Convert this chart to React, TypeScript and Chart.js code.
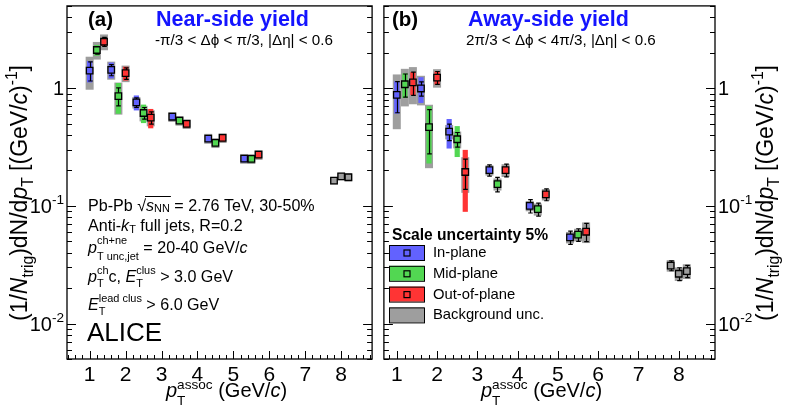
import React, { useEffect, useRef } from 'react';
import { Chart, registerables } from 'chart.js';
Chart.register(...registerables);

const FONT = '"Liberation Sans", Arial, Helvetica, sans-serif';

// ---------------- data ----------------
const planeLabels = ['In-plane', 'Mid-plane', 'Out-of-plane', 'Background unc.'];
const ptIn = [1.0, 1.6, 2.3, 3.3, 4.3, 5.3, 7.8];
const ptMid = [1.2, 1.8, 2.5, 3.5, 4.5, 5.5, 8.0];
const ptOut = [1.4, 2.0, 2.7, 3.7, 4.7, 5.7, 8.2];

const nearIn = [1.41, 1.43, 0.757, 0.572, 0.373, 0.252, 0.164];
const nearInStat = [0.26, 0.155, 0.07, 0.02, 0.012, 0.008, 0.005];
const nearInSys = [0.29, 0.22, 0.11, 0.04, 0.026, 0.018, 0];
const nearInBkg = [0.44, 0.25, 0.085, 0.055, 0.036, 0.024, 0.012];

const nearMid = [2.11, 0.856, 0.615, 0.53, 0.343, 0.251, 0.178];
const nearMidStat = [0.16, 0.15, 0.07, 0.015, 0.01, 0.008, 0.005];
const nearMidSys = [0.22, 0.25, 0.11, 0.037, 0.024, 0.018, 0];
const nearMidBkg = [0.36, 0.26, 0.093, 0.05, 0.033, 0.024, 0.013];

const nearOut = [2.48, 1.34, 0.561, 0.497, 0.378, 0.272, 0.175];
const nearOutStat = [0.22, 0.15, 0.067, 0.015, 0.012, 0.008, 0.006];
const nearOutSys = [0.19, 0.18, 0.105, 0.035, 0.026, 0.019, 0];
const nearOutBkg = [0.38, 0.215, 0.087, 0.047, 0.036, 0.026, 0.013];

const awayIn = [0.878, 0.994, 0.427, 0.201, 0.1, 0.054, 0.0311];
const awayInStat = [0.26, 0.137, 0.068, 0.022, 0.013, 0.007, 0.003];
const awayInSys = [0.27, 0.245, 0.12, 0.014, 0.007, 0.0038, 0];
const awayInBkg = [0.43, 0.28, 0.06, 0.02, 0.01, 0.006, 0.0035];

const awayMid = [1.08, 0.466, 0.368, 0.153, 0.0937, 0.0569, 0.0265];
const awayMidStat = [0.24, 0.19, 0.052, 0.0215, 0.012, 0.007, 0.0033];
const awayMidSys = [0.255, 0.237, 0.108, 0.011, 0.0066, 0.004, 0];
const awayMidBkg = [0.38, 0.257, 0.06, 0.018, 0.011, 0.007, 0.0035];

const awayOut = [1.12, 1.23, 0.194, 0.201, 0.125, 0.0603, 0.0279];
const awayOutStat = [0.25, 0.155, 0.056, 0.025, 0.0145, 0.0107, 0.0033];
const awayOutSys = [0.25, 0.16, 0.105, 0.014, 0.0088, 0.0042, 0];
const awayOutBkg = [0.39, 0.22, 0.065, 0.025, 0.014, 0.012, 0.004];

const xTickValues = [1, 2, 3, 4, 5, 6, 7, 8];
const yMajorValues = [0.01, 0.1, 1];
const yMajorBase = ['10', '10', '1'];
const yMajorExp = ['-2', '-1', ''];

// ---------------- style ----------------
const C_BLUE = 'rgb(98,98,255)';
const C_GREEN = 'rgb(82,215,82)';
const C_RED = 'rgb(255,52,52)';
const C_GRAY = 'rgb(158,158,158)';
const TITLE_BLUE = 'rgb(20,20,255)';
const BKG_HW = 4;
const SYS_HW = 2.6;
const MARK_HALF = 3.3;

type Seg = { t?: string; it?: boolean; sup?: string; sub?: string; ol?: boolean; subDy?: number; supDy?: number };

function fnt(size: number, it?: boolean, bold?: boolean) {
  return `${it ? 'italic ' : ''}${bold ? 'bold ' : ''}${size}px ${FONT}`;
}
function segW(ctx: CanvasRenderingContext2D, s: Seg, size: number, bold: boolean) {
  let w = 0;
  if (s.t) { ctx.font = fnt(size, s.it, bold); w += ctx.measureText(s.t).width; }
  let ws = 0;
  ctx.font = fnt(size * 0.68, false, bold);
  if (s.sup) ws = ctx.measureText(s.sup).width;
  if (s.sub) ws = Math.max(ws, ctx.measureText(s.sub).width);
  return w + ws;
}
function drawRich(ctx: CanvasRenderingContext2D, x: number, y: number, segs: Seg[], size: number,
  align: 'left' | 'right' | 'center' = 'left', bold = false, color = '#000') {
  let total = 0;
  for (const s of segs) total += segW(ctx, s, size, bold);
  let cx = align === 'left' ? x : align === 'right' ? x - total : x - total / 2;
  ctx.fillStyle = color; ctx.strokeStyle = color;
  ctx.textAlign = 'left'; ctx.textBaseline = 'alphabetic';
  for (const s of segs) {
    const start = cx;
    if (s.t) { ctx.font = fnt(size, s.it, bold); ctx.fillText(s.t, cx, y); cx += ctx.measureText(s.t).width; }
    ctx.font = fnt(size * 0.68, false, bold);
    let ws = 0;
    if (s.sup) { ctx.fillText(s.sup, cx, y - size * (s.supDy ?? 0.48)); ws = ctx.measureText(s.sup).width; }
    if (s.sub) { ctx.fillText(s.sub, cx, y + size * (s.subDy ?? 0.3)); ws = Math.max(ws, ctx.measureText(s.sub).width); }
    cx += ws;
    if (s.ol) {
      ctx.lineWidth = 1; ctx.beginPath();
      ctx.moveTo(start - 1, y - size * 0.9); ctx.lineTo(cx + 1, y - size * 0.9); ctx.stroke();
    }
  }
}

type Series = { x: number[]; y: number[]; stat: number[]; sys: number[]; bkg: number[]; color: string };
type Panel = {
  id: string; side: 'left' | 'right'; offsetX: number; width: number;
  xMin: number; xMax: number; padding: { left: number; right: number; top: number; bottom: number };
  series: Series[]; texts: (ctx: CanvasRenderingContext2D) => void;
};

const yTitle: Seg[] = [{ t: '(1/' }, { t: 'N', it: true, sub: 'trig', subDy: 0.28 }, { t: ')dN/d' },
  { t: 'p', it: true, sub: 'T', subDy: 0.28 }, { t: ' [(GeV/' }, { t: 'c', it: true }, { t: ')', sup: '-1', supDy: 0.45 }, { t: ']' }];
const xTitle: Seg[] = [{ t: 'p', it: true, sup: 'assoc', sub: 'T', supDy: 0.42, subDy: 0.38 }, { t: ' (GeV/' }, { t: 'c', it: true }, { t: ')' }];

function panelPlugin(p: Panel) {
  return {
    id: 'panel' + p.id,
    beforeDatasetsDraw(chart: any) {
      const { ctx, chartArea: a } = chart;
      const xs = chart.scales.x, ys = chart.scales.y;
      ctx.save();
      ctx.beginPath(); ctx.rect(a.left, a.top, a.right - a.left, a.bottom - a.top); ctx.clip();
      for (const s of p.series) s.x.forEach((xv, i) => {
        const b = s.bkg[i]; if (!b) return;
        const px = xs.getPixelForValue(xv);
        const y1 = ys.getPixelForValue(s.y[i] + b), y2 = ys.getPixelForValue(Math.max(s.y[i] - b, 1e-4));
        ctx.fillStyle = C_GRAY; ctx.fillRect(px - BKG_HW, y1, 2 * BKG_HW, y2 - y1);
      });
      for (const s of p.series) s.x.forEach((xv, i) => {
        const b = s.sys[i]; if (!b) return;
        const px = xs.getPixelForValue(xv);
        const y1 = ys.getPixelForValue(s.y[i] + b), y2 = ys.getPixelForValue(Math.max(s.y[i] - b, 1e-4));
        ctx.fillStyle = s.color; ctx.fillRect(px - SYS_HW, y1, 2 * SYS_HW, y2 - y1);
      });
      ctx.strokeStyle = '#000'; ctx.lineWidth = 1.2;
      for (const s of p.series) s.x.forEach((xv, i) => {
        const e = s.stat[i];
        const px = Math.round(xs.getPixelForValue(xv)) + 0.5;
        const yc = ys.getPixelForValue(s.y[i]);
        const yt = ys.getPixelForValue(s.y[i] + e), yb = ys.getPixelForValue(s.y[i] - e);
        ctx.beginPath();
        if (yt < yc - MARK_HALF - 0.5) {
          ctx.moveTo(px, yc - MARK_HALF); ctx.lineTo(px, yt);
          ctx.moveTo(px - 2.3, yt); ctx.lineTo(px + 2.3, yt);
        }
        if (yb > yc + MARK_HALF + 0.5) {
          ctx.moveTo(px, yc + MARK_HALF); ctx.lineTo(px, yb);
          ctx.moveTo(px - 2.3, yb); ctx.lineTo(px + 2.3, yb);
        }
        ctx.stroke();
      });
      ctx.restore();
    },
    afterDraw(chart: any) {
      const { ctx, chartArea: a } = chart;
      const xs = chart.scales.x, ys = chart.scales.y;
      ctx.save();
      ctx.strokeStyle = '#000'; ctx.lineWidth = 1.3;
      ctx.strokeRect(a.left, a.top, a.right - a.left, a.bottom - a.top);
      ctx.lineWidth = 1;
      ctx.beginPath();
      // x ticks (inward)
      for (let k = Math.ceil(p.xMin / 0.2 - 1e-6); k * 0.2 <= p.xMax + 1e-6; k++) {
        const v = k * 0.2;
        const major = Math.abs(v - Math.round(v)) < 1e-6;
        const px = Math.round(xs.getPixelForValue(v)) + 0.5;
        ctx.moveTo(px, a.bottom); ctx.lineTo(px, a.bottom - (major ? 8 : 4));
      }
      // y ticks (inward, both edges)
      for (let dec = -3; dec <= 0; dec++) {
        for (let m = 1; m <= 9; m++) {
          const v = m * Math.pow(10, dec);
          if (v < 0.005 - 1e-9 || v > 5 + 1e-9) continue;
          const py = Math.round(ys.getPixelForValue(v)) + 0.5;
          const len = m === 1 ? 9 : 5;
          ctx.moveTo(a.left, py); ctx.lineTo(a.left + len, py);
          ctx.moveTo(a.right, py); ctx.lineTo(a.right - len, py);
        }
      }
      ctx.stroke();
      // x tick labels
      for (const v of xTickValues) {
        drawRich(ctx, xs.getPixelForValue(v), 380.5, [{ t: String(v) }], 21, 'center');
      }
      // y tick labels
      yMajorValues.forEach((v, i) => {
        const py = ys.getPixelForValue(v) + 7;
        const seg: Seg[] = [{ t: yMajorBase[i], sup: yMajorExp[i] || undefined, supDy: 0.42 }];
        if (p.side === 'left') drawRich(ctx, a.left - 3, py, seg, 20, 'right');
        else drawRich(ctx, a.right + 3, py, seg, 20, 'left');
      });
      ctx.translate(-p.offsetX, 0);
      p.texts(ctx);
      ctx.restore();
    },
  };
}

function infoTexts(ctx: CanvasRenderingContext2D) {
  const fs = 16.1;
  drawRich(ctx, 88, 211, [{ t: 'Pb-Pb ' }, { t: '√' }, { t: 's', it: true, sub: 'NN', subDy: 0.08, ol: true }, { t: ' = 2.76 TeV, 30-50%' }], fs);
  drawRich(ctx, 88, 231, [{ t: 'Anti-' }, { t: 'k', it: true, sub: 'T', subDy: 0.1 }, { t: ' full jets, R=0.2' }], fs);
  drawRich(ctx, 88, 253, [{ t: 'p', it: true, sup: 'ch+ne', sub: 'T unc,jet', supDy: 0.55, subDy: 0.45 }, { t: ' = 20-40 GeV/' }, { t: 'c', it: true }], fs);
  drawRich(ctx, 88, 282, [{ t: 'p', it: true, sup: 'ch', sub: 'T', supDy: 0.48, subDy: 0.32 }, { t: 'c, ' },
    { t: 'E', it: true, sup: 'clus', sub: 'T', supDy: 0.48, subDy: 0.32 }, { t: ' > 3.0 GeV' }], fs);
  drawRich(ctx, 88, 310, [{ t: 'E', it: true, sup: 'lead clus', sub: 'T', supDy: 0.48, subDy: 0.3 }, { t: ' > 6.0 GeV' }], fs);
  drawRich(ctx, 87, 341, [{ t: 'ALICE' }], 26);
}

function rotTitle(ctx: CanvasRenderingContext2D, bx: number, cy: number) {
  ctx.save();
  ctx.translate(bx, cy);
  ctx.rotate(-Math.PI / 2);
  drawRich(ctx, 0, 0, yTitle, 23, 'center');
  ctx.restore();
}

const leftPanel: Panel = {
  id: 'L', side: 'left', offsetX: 0, width: 378, xMin: 0.37, xMax: 8.86,
  padding: { left: 67, right: 2, top: 4, bottom: 58 },
  series: [
    { x: ptIn, y: nearIn, stat: nearInStat, sys: nearInSys, bkg: nearInBkg, color: C_BLUE },
    { x: ptMid, y: nearMid, stat: nearMidStat, sys: nearMidSys, bkg: nearMidBkg, color: C_GREEN },
    { x: ptOut, y: nearOut, stat: nearOutStat, sys: nearOutSys, bkg: nearOutBkg, color: C_RED },
  ],
  texts: (ctx) => {
    drawRich(ctx, 88, 26, [{ t: '(a)' }], 20.5, 'left', true);
    drawRich(ctx, 156, 26, [{ t: 'Near-side yield' }], 21.5, 'left', true, TITLE_BLUE);
    drawRich(ctx, 155, 45, [{ t: '-π/3 < Δϕ < π/3, |Δη| < 0.6' }], 15.2);
    infoTexts(ctx);
    drawRich(ctx, 166, 397, xTitle, 20);
    rotTitle(ctx, 27, 193);
  },
};

const rightPanel: Panel = {
  id: 'R', side: 'right', offsetX: 378, width: 410, xMin: 0.68, xMax: 8.9,
  padding: { left: 3, right: 73, top: 4, bottom: 58 },
  series: [
    { x: ptIn, y: awayIn, stat: awayInStat, sys: awayInSys, bkg: awayInBkg, color: C_BLUE },
    { x: ptMid, y: awayMid, stat: awayMidStat, sys: awayMidSys, bkg: awayMidBkg, color: C_GREEN },
    { x: ptOut, y: awayOut, stat: awayOutStat, sys: awayOutSys, bkg: awayOutBkg, color: C_RED },
  ],
  texts: (ctx) => {
    drawRich(ctx, 392, 26, [{ t: '(b)' }], 20.5, 'left', true);
    drawRich(ctx, 468, 26, [{ t: 'Away-side yield' }], 21.5, 'left', true, TITLE_BLUE);
    drawRich(ctx, 466, 45, [{ t: '2π/3 < Δϕ < 4π/3, |Δη| < 0.6' }], 15.2);
    // legend
    drawRich(ctx, 392, 240, [{ t: 'Scale uncertainty 5%' }], 15.6, 'left', true);
    const cols = [C_BLUE, C_GREEN, C_RED, C_GRAY];
    planeLabels.forEach((lab, i) => {
      const top = 245 + i * 20.8;
      ctx.fillStyle = cols[i];
      ctx.fillRect(389, top, 35, 15);
      ctx.strokeStyle = '#000'; ctx.lineWidth = 1;
      ctx.strokeRect(389.5, top + 0.5, 35, 15);
      if (i < 3) { ctx.lineWidth = 1.2; ctx.strokeRect(404, top + 5, 6, 6); }
      drawRich(ctx, 433, top + 12, [{ t: lab }], 14.8);
    });
    drawRich(ctx, 481, 397, xTitle, 20);
    rotTitle(ctx, 773, 193);
  },
};

function makeChart(canvas: HTMLCanvasElement, p: Panel) {
  return new Chart(canvas, {
    type: 'scatter',
    data: {
      datasets: p.series.map((s) => ({
        data: s.x.map((x, i) => ({ x, y: s.y[i] })),
        pointStyle: 'rect',
        pointRadius: 4.6,
        borderWidth: 1.3,
        pointBorderWidth: 1.3,
        borderColor: '#000',
        pointBorderColor: '#000',
        backgroundColor: 'rgba(0,0,0,0)',
        pointBackgroundColor: 'rgba(0,0,0,0)',
        showLine: false,
      })),
    },
    options: {
      responsive: false,
      animation: false,
      events: [],
      layout: { padding: p.padding },
      scales: {
        x: { type: 'linear', min: p.xMin, max: p.xMax, display: false },
        y: { type: 'logarithmic', min: 0.005, max: 5, display: false },
      },
      plugins: { legend: { display: false }, tooltip: { enabled: false } },
    } as any,
    plugins: [panelPlugin(p)],
  } as any);
}

export default function App() {
  const leftRef = useRef<HTMLCanvasElement>(null);
  const rightRef = useRef<HTMLCanvasElement>(null);
  useEffect(() => {
    const c1 = makeChart(leftRef.current!, leftPanel);
    const c2 = makeChart(rightRef.current!, rightPanel);
    return () => { c1.destroy(); c2.destroy(); };
  }, []);
  return (
    <div style={{ position: 'fixed', left: 0, top: 0, width: 788, height: 417, background: '#fff', overflow: 'hidden' }}>
      <canvas ref={leftRef} width={378} height={417} style={{ position: 'absolute', left: 0, top: 0, width: 378, height: 417 }} />
      <canvas ref={rightRef} width={410} height={417} style={{ position: 'absolute', left: 378, top: 0, width: 410, height: 417 }} />
    </div>
  );
}
